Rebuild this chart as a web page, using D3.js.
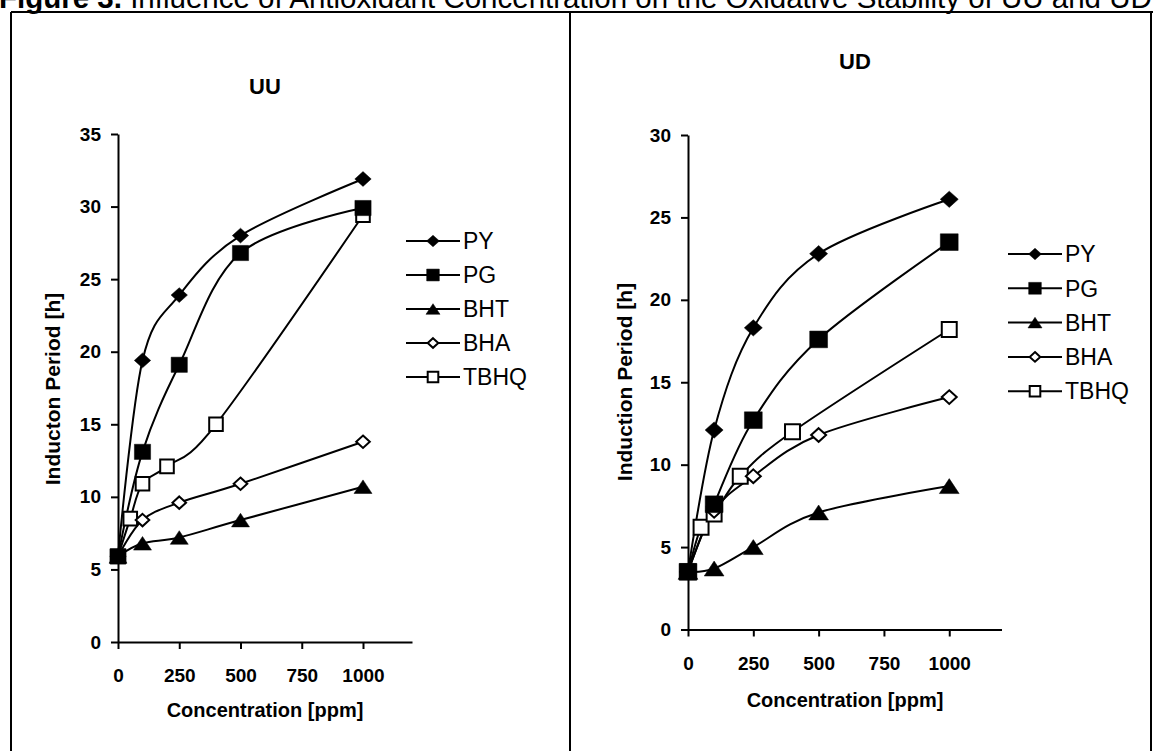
<!doctype html>
<html>
  <head>
    <script src="https://cdn.jsdelivr.net/npm/d3@7"></script>
    <style>
      body { margin: 0; background: #fff; }
      text { font-family: "Liberation Sans", Arial, sans-serif; fill: #000; }
    </style>
  </head>
  <body>
    <div id="my_dataviz"></div>
    <script>
      // series names (legend order)
      var seriesNames = ["PY", "PG", "BHT", "BHA", "TBHQ"];

      // concentrations [ppm]
      var conc = [0, 100, 250, 500, 1000];
      var concTBHQ = [0, 50, 100, 200, 400, 1000];

      // UU - induction period [h]
      var uuPY = [5.9, 19.4, 23.9, 28.0, 31.9];
      var uuPG = [5.9, 13.1, 19.1, 26.8, 29.9];
      var uuBHT = [5.9, 6.8, 7.2, 8.4, 10.7];
      var uuBHA = [5.9, 8.4, 9.6, 10.9, 13.8];
      var uuTBHQ = [5.9, 8.5, 10.9, 12.1, 15.0, 29.4];

      // UD - induction period [h]
      var udPY = [3.5, 12.1, 18.3, 22.8, 26.1];
      var udPG = [3.5, 7.6, 12.7, 17.6, 23.5];
      var udBHT = [3.5, 3.7, 5.0, 7.1, 8.7];
      var udBHA = [3.5, 7.2, 9.3, 11.8, 14.1];
      var udTBHQ = [3.5, 6.2, 7.0, 9.3, 12.0, 18.2];

      // tick values
      var xTicks = [0, 250, 500, 750, 1000];
      var uuYTicks = [0, 5, 10, 15, 20, 25, 30, 35];
      var udYTicks = [0, 5, 10, 15, 20, 25, 30];

      var svg = d3.select("#my_dataviz")
        .append("svg")
          .attr("width", 1153)
          .attr("height", 751);

      // figure title (cut off at the top, like the source)
      var title = svg.append("text")
        .attr("x", -1)
        .attr("y", 8)
        .style("font-size", "29.5px")
        .style("white-space", "pre");
      title.append("tspan").style("font-weight", "bold").text("Figure 3.");
      title.append("tspan").text(" Influence of Antioxidant Concentration on the Oxidative Stability of UU and UD");

      // frame
      var frame = [[11, 12, 1153, 12], [11, 12, 11, 751], [570, 12, 570, 751], [1151, 12, 1151, 751]];
      svg.selectAll("frameLines")
        .data(frame)
        .enter()
        .append("line")
          .attr("x1", function(d) { return d[0]; })
          .attr("y1", function(d) { return d[1]; })
          .attr("x2", function(d) { return d[2]; })
          .attr("y2", function(d) { return d[3]; })
          .attr("stroke", "#000")
          .attr("stroke-width", 2);

      // marker shapes
      var styles = {
        PY:   {shape: "diamond",  fill: "#000"},
        PG:   {shape: "square",   fill: "#000"},
        BHT:  {shape: "triangle", fill: "#000"},
        BHA:  {shape: "diamond",  fill: "#fff"},
        TBHQ: {shape: "square",   fill: "#fff"}
      };

      function markerPath(shape, w, h) {
        if (shape == "diamond") return "M0," + (-h) + "L" + w + ",0L0," + h + "L" + (-w) + ",0Z";
        if (shape == "square") return "M" + (-w) + "," + (-h) + "H" + w + "V" + h + "H" + (-w) + "Z";
        return "M0," + (-h) + "L" + w + "," + h + "L" + (-w) + "," + h + "Z";
      }

      // marker size in the plot / legend [w, h]
      function markerSize(name, big, legend) {
        var k = legend ? 0.78 : (big ? 1.1 : 1);
        if (name == "PY") return [8.2 * k, 7.4 * k];
        if (name == "PG") return [8.1 * k, 7.6 * k];
        if (name == "BHT") return [9 * k, 6.8 * k];
        if (name == "BHA") return [6.8 * k, 6.2 * k];
        return [6.8 * k, 6.8 * k];
      }

      function drawPanel(cfg) {
        var x = d3.scaleLinear().domain([0, 1200]).range(cfg.xRange);
        var y = d3.scaleLinear().domain([0, cfg.yMax]).range(cfg.yRange);

        var g = svg.append("g");

        // axes
        var xAxis = g.append("g")
          .attr("transform", "translate(0," + cfg.yRange[0] + ")")
          .call(d3.axisBottom(x).tickValues(xTicks).tickFormat(d3.format("d"))
            .tickSize(7).tickPadding(20).tickSizeOuter(0));
        var yAxis = g.append("g")
          .attr("transform", "translate(" + cfg.xRange[0] + ",0)")
          .call(d3.axisLeft(y).tickValues(cfg.yTicks).tickSize(7).tickPadding(10).tickSizeOuter(0));
        [xAxis, yAxis].forEach(function(a) {
          a.select(".domain").attr("stroke-width", 2);
          a.selectAll(".tick line").attr("stroke-width", 2);
          a.selectAll(".tick text")
            .style("font-family", "'Liberation Sans', Arial, sans-serif")
            .style("font-size", "19px")
            .style("font-weight", "bold");
        });

        // series data
        var data = seriesNames.map(function(name) {
          var xs = name == "TBHQ" ? concTBHQ : conc;
          return {
            name: name,
            values: cfg.values[name].map(function(v, i) { return {c: xs[i], v: v}; })
          };
        });

        var line = d3.line()
          .x(function(d) { return x(d.c); })
          .y(function(d) { return y(d.v); })
          .curve(d3.curveCatmullRom.alpha(0));

        g.selectAll("seriesLines")
          .data(data)
          .enter()
          .append("path")
            .attr("d", function(d) { return line(d.values); })
            .attr("fill", "none")
            .attr("stroke", "#000")
            .attr("stroke-width", 2);

        // markers, drawn so that filled squares end up on top
        var order = ["TBHQ", "BHA", "BHT", "PY", "PG"];
        order.forEach(function(name) {
          var s = data.filter(function(d) { return d.name == name; })[0];
          var sz = markerSize(name, cfg.big, false);
          g.selectAll("pts")
            .data(s.values)
            .enter()
            .append("path")
              .attr("transform", function(d) { return "translate(" + x(d.c) + "," + y(d.v) + ")"; })
              .attr("d", markerPath(styles[name].shape, sz[0], sz[1]))
              .attr("fill", styles[name].fill)
              .attr("stroke", "#000")
              .attr("stroke-width", styles[name].fill == "#fff" ? 2 : 0.5);
        });

        // panel title
        g.append("text")
          .attr("x", cfg.title[0])
          .attr("y", cfg.title[1])
          .attr("text-anchor", "middle")
          .style("font-size", "22px")
          .style("font-weight", "bold")
          .text(cfg.name);

        // axis titles
        g.append("text")
          .attr("x", cfg.xTitle[0])
          .attr("y", cfg.xTitle[1])
          .attr("text-anchor", "middle")
          .style("font-size", "20px")
          .style("font-weight", "bold")
          .text("Concentration [ppm]");
        g.append("text")
          .attr("transform", "translate(" + cfg.yTitle[0] + "," + cfg.yTitle[1] + ") rotate(-90)")
          .attr("text-anchor", "middle")
          .style("font-size", "21px")
          .style("font-weight", "bold")
          .text(cfg.yLabel);

        // legend
        var leg = g.selectAll("legendRows")
          .data(seriesNames)
          .enter()
          .append("g")
            .attr("transform", function(d, i) { return "translate(" + cfg.legend[0] + "," + (cfg.legend[1] + i * cfg.legend[2]) + ")"; });
        leg.append("line")
          .attr("x1", 0).attr("x2", 54)
          .attr("stroke", "#000")
          .attr("stroke-width", 2);
        leg.append("path")
          .attr("transform", "translate(27,0)")
          .attr("d", function(d) { var sz = markerSize(d, false, true); return markerPath(styles[d].shape, sz[0], sz[1]); })
          .attr("fill", function(d) { return styles[d].fill; })
          .attr("stroke", "#000")
          .attr("stroke-width", function(d) { return styles[d].fill == "#fff" ? 2 : 0.5; });
        leg.append("text")
          .attr("x", 57)
          .attr("dy", "0.36em")
          .style("font-size", "23px")
          .text(function(d) { return d; });
      }

      drawPanel({
        name: "UU",
        values: {PY: uuPY, PG: uuPG, BHT: uuBHT, BHA: uuBHA, TBHQ: uuTBHQ},
        xRange: [118, 412],
        yRange: [642, 134],
        yMax: 35,
        yTicks: uuYTicks,
        big: false,
        title: [265, 94],
        xTitle: [265, 717],
        yTitle: [60, 389],
        yLabel: "Inducton Period [h]",
        legend: [406, 241, 34]
      });

      drawPanel({
        name: "UD",
        values: {PY: udPY, PG: udPG, BHT: udBHT, BHA: udBHA, TBHQ: udTBHQ},
        xRange: [688, 1001.5],
        yRange: [629.5, 135],
        yMax: 30,
        yTicks: udYTicks,
        big: true,
        title: [855, 69],
        xTitle: [845, 707],
        yTitle: [632, 382],
        yLabel: "Induction Period [h]",
        legend: [1008, 254, 34.3]
      });
    </script>
  </body>
</html>
